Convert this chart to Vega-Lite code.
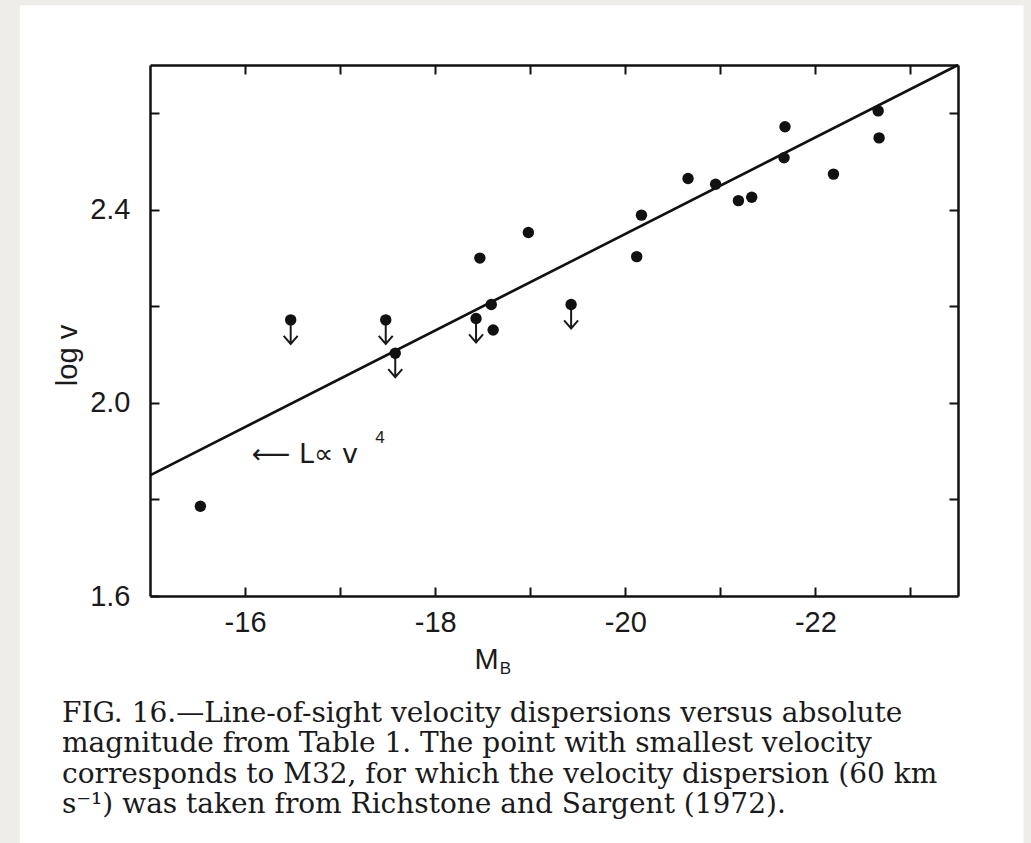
{
  "$schema": "https://vega.github.io/schema/vega-lite/v6.json",
  "width": 808,
  "height": 531,
  "autosize": {"type": "none"},
  "padding": {"left": 150, "top": 65, "right": 73, "bottom": 247},
  "background": "#efede9",
  "config": {
    "view": {"stroke": null},
    "font": "Liberation Sans",
    "axis": {
      "grid": false,
      "domainColor": "#111111",
      "domainWidth": 2.5,
      "tickColor": "#111111",
      "tickWidth": 2,
      "tickSize": -9,
      "labelFont": "Liberation Sans",
      "labelFontSize": 29,
      "labelColor": "#1a1a1a",
      "labelOverlap": false,
      "labelFlush": false,
      "titleFont": "Liberation Sans",
      "titleFontSize": 29,
      "titleFontWeight": "normal",
      "titleColor": "#1a1a1a"
    }
  },
  "datasets": {
    "points": [
      {"MB": -15.53, "logv": 1.786, "limit": false},
      {"MB": -16.48, "logv": 2.172, "limit": true},
      {"MB": -17.48, "logv": 2.172, "limit": true},
      {"MB": -17.58, "logv": 2.103, "limit": true},
      {"MB": -18.43, "logv": 2.175, "limit": true},
      {"MB": -18.47, "logv": 2.300, "limit": false},
      {"MB": -18.59, "logv": 2.204, "limit": false},
      {"MB": -18.61, "logv": 2.151, "limit": false},
      {"MB": -18.98, "logv": 2.353, "limit": false},
      {"MB": -19.43, "logv": 2.204, "limit": true},
      {"MB": -20.12, "logv": 2.303, "limit": false},
      {"MB": -20.17, "logv": 2.389, "limit": false},
      {"MB": -20.66, "logv": 2.465, "limit": false},
      {"MB": -20.95, "logv": 2.453, "limit": false},
      {"MB": -21.19, "logv": 2.419, "limit": false},
      {"MB": -21.33, "logv": 2.426, "limit": false},
      {"MB": -21.67, "logv": 2.508, "limit": false},
      {"MB": -21.68, "logv": 2.572, "limit": false},
      {"MB": -22.19, "logv": 2.474, "limit": false},
      {"MB": -22.66, "logv": 2.605, "limit": false},
      {"MB": -22.67, "logv": 2.549, "limit": false}
    ],
    "fit": [
      {"MB": -15.0, "logv": 1.85},
      {"MB": -23.5, "logv": 2.70}
    ]
  },
  "resolve": {"axis": {"x": "independent", "y": "independent"}},
  "layer": [
    {
      "data": {"values": [{}]},
      "mark": {"type": "rect", "color": "#ffffff"},
      "encoding": {
        "x": {"datum": -13.63, "type": "quantitative", "scale": {"domain": [-15, -23.5], "nice": false, "zero": false}, "axis": null},
        "x2": {"datum": -24.19},
        "y": {"datum": 2.824, "type": "quantitative", "scale": {"domain": [1.6, 2.7], "nice": false, "zero": false}, "axis": null},
        "y2": {"datum": 1.0}
      }
    },
    {
      "data": {"name": "fit"},
      "mark": {"type": "line", "color": "#111111", "strokeWidth": 2.6},
      "encoding": {
        "x": {
          "field": "MB", "type": "quantitative",
          "axis": {
            "zindex": 1,
            "orient": "bottom",
            "values": [-16, -17, -18, -19, -20, -21, -22, -23],
            "labelExpr": "datum.value % 2 == 0 ? '-' + abs(datum.value) : ''",
            "labelPadding": 21,
            "title": "M",
            "titleX": 336,
            "titleY": 72,
            "titleAlign": "center",
            "titleBaseline": "alphabetic"
          }
        },
        "y": {
          "field": "logv", "type": "quantitative",
          "axis": {
            "zindex": 1,
            "orient": "left",
            "values": [1.6, 1.8, 2.0, 2.2, 2.4, 2.6],
            "labelExpr": "round(datum.value * 10) % 4 == 0 ? format(datum.value, '.1f') : ''",
            "labelPadding": 29,
            "title": "log v",
            "titleAngle": 270,
            "titleX": -74,
            "titleY": 290,
            "titleAlign": "center",
            "titleBaseline": "alphabetic"
          }
        }
      }
    },
    {
      "data": {"name": "points"},
      "transform": [{"filter": "datum.limit"}],
      "mark": {
        "type": "point",
        "shape": "M0,0L0,2.4M-0.7,1.6L0,2.4L0.7,1.6",
        "size": 400,
        "filled": false,
        "color": "#1a1a1a",
        "strokeWidth": 2,
        "opacity": 1
      },
      "encoding": {
        "x": {"field": "MB", "type": "quantitative", "axis": null},
        "y": {"field": "logv", "type": "quantitative", "axis": null}
      }
    },
    {
      "data": {"name": "points"},
      "mark": {"type": "circle", "size": 130, "color": "#111111", "opacity": 1},
      "encoding": {
        "x": {
          "field": "MB", "type": "quantitative",
          "axis": {"zindex": 1, "orient": "top", "values": [-16, -17, -18, -19, -20, -21, -22, -23], "labels": false, "title": null}
        },
        "y": {
          "field": "logv", "type": "quantitative",
          "axis": {"zindex": 1, "orient": "right", "values": [1.8, 2.0, 2.2, 2.4, 2.6], "labels": false, "title": null}
        }
      }
    },
    {
      "data": {"values": [{}]},
      "mark": {"type": "text", "align": "left", "baseline": "middle", "font": "DejaVu Sans", "fontSize": 27, "color": "#1a1a1a"},
      "encoding": {
        "x": {"datum": -16.07, "type": "quantitative", "axis": null},
        "y": {"datum": 1.892, "type": "quantitative", "axis": null},
        "text": {"value": "⟵ L∝ v"}
      }
    },
    {
      "data": {"values": [{}]},
      "mark": {"type": "text", "align": "left", "baseline": "middle", "font": "Liberation Sans", "fontSize": 17, "color": "#1a1a1a"},
      "encoding": {
        "x": {"datum": -17.37, "type": "quantitative", "axis": null},
        "y": {"datum": 1.927, "type": "quantitative", "axis": null},
        "text": {"value": "4"}
      }
    },
    {
      "data": {"values": [{}]},
      "mark": {"type": "text", "align": "left", "baseline": "middle", "font": "Liberation Sans", "fontSize": 17, "color": "#1a1a1a"},
      "encoding": {
        "x": {"datum": -18.68, "type": "quantitative", "axis": null},
        "y": {"datum": 1.449, "type": "quantitative", "axis": null},
        "text": {"value": "B"}
      }
    },
    {
      "data": {"values": [{}]},
      "mark": {"type": "text", "align": "left", "baseline": "alphabetic", "font": "DejaVu Serif", "fontSize": 28, "lineHeight": 30.5, "color": "#1a1a1a"},
      "encoding": {
        "x": {"datum": -14.074, "type": "quantitative", "axis": null},
        "y": {"datum": 1.339, "type": "quantitative", "axis": null},
        "text": {"value": [
          "FIG. 16.—Line-of-sight velocity dispersions versus absolute",
          "magnitude from Table 1. The point with smallest velocity",
          "corresponds to M32, for which the velocity dispersion (60 km",
          "s⁻¹) was taken from Richstone and Sargent (1972)."
        ]}
      }
    }
  ]
}
